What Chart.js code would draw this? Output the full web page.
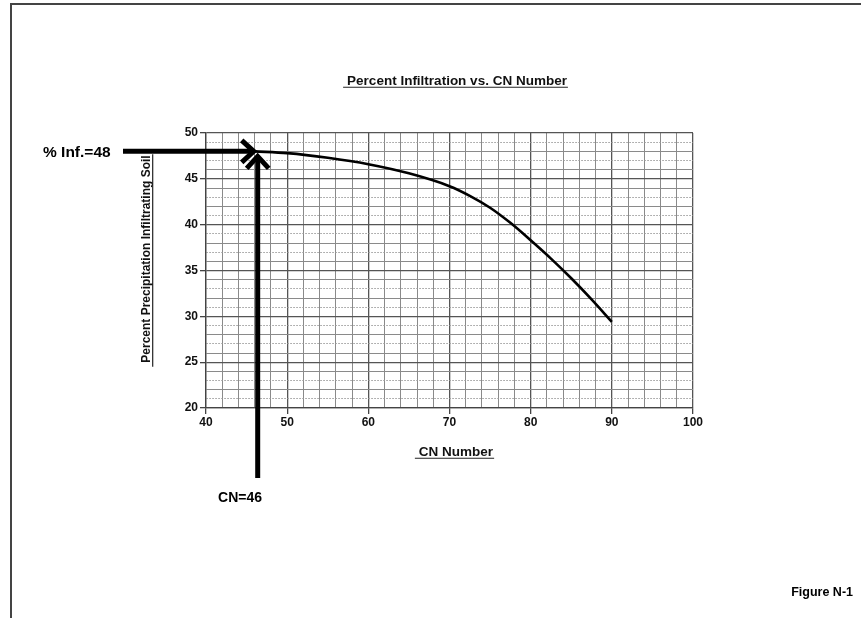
<!DOCTYPE html>
<html>
<head>
<meta charset="utf-8">
<script src="https://cdn.jsdelivr.net/npm/chart.js@4"></script>
<style>
html,body{margin:0;padding:0;background:#fff;}
#wrap{width:861px;height:618px;position:relative;}
</style>
</head>
<body>
<div id="wrap"><canvas id="c" width="861" height="618"></canvas></div>
<script>
const cnValues = [46, 50, 55, 60, 65, 70, 72.5, 75, 77.5, 80, 82.5, 85, 87.5, 90];
const infiltration = [48.0, 47.8, 47.3, 46.6, 45.6, 44.2, 43.15, 41.85, 40.2, 38.3, 36.3, 34.15, 31.85, 29.4];
const xTickLabels = [40, 50, 60, 70, 80, 90, 100];
const yTickLabels = [20, 25, 30, 35, 40, 45, 50];
const chartTitle = 'Percent Infiltration vs. CN Number';
const xTitle = 'CN Number';
const yTitle = 'Percent Precipitation Infiltrating Soil';
const markedCN = 46;
const markedInf = 48;
const figureLabel = 'Figure N-1';

const FONT = '"Liberation Sans", Arial, sans-serif';

function underlinedText(ctx, text, x, y, size, rotate) {
  ctx.save();
  ctx.translate(x, y);
  if (rotate) ctx.rotate(-Math.PI / 2);
  ctx.font = 'bold ' + size + 'px ' + FONT;
  ctx.fillStyle = '#111';
  ctx.textAlign = 'center';
  ctx.textBaseline = 'alphabetic';
  ctx.fillText(text, 0, size * 0.35);
  const w = ctx.measureText(text).width;
  ctx.strokeStyle = '#222';
  ctx.lineWidth = 1.2;
  ctx.beginPath();
  ctx.moveTo(-w / 2 - 4, size * 0.35 + 2.5);
  ctx.lineTo(w / 2 + 1, size * 0.35 + 2.5);
  ctx.stroke();
  ctx.restore();
}

function arrowHead(ctx, tx, ty, dir) {
  ctx.beginPath();
  if (dir === 'right') {
    ctx.moveTo(tx - 13, ty - 11);
    ctx.lineTo(tx - 1, ty);
    ctx.lineTo(tx - 13, ty + 11);
  } else {
    ctx.moveTo(tx - 11, ty + 13);
    ctx.lineTo(tx, ty + 1);
    ctx.lineTo(tx + 11, ty + 13);
  }
  ctx.stroke();
}

const decor = {
  id: 'decor',
  beforeDraw(chart) {
    const ctx = chart.ctx;
    ctx.save();
    ctx.fillStyle = '#fff';
    ctx.fillRect(0, 0, chart.width, chart.height);
    ctx.strokeStyle = '#444';
    ctx.lineWidth = 2;
    ctx.beginPath();
    ctx.moveTo(11, chart.height);
    ctx.lineTo(11, 4);
    ctx.lineTo(chart.width, 4);
    ctx.stroke();
    ctx.restore();
  },
  afterDraw(chart) {
    const ctx = chart.ctx;
    const xs = chart.scales.x, ys = chart.scales.y;
    underlinedText(ctx, chartTitle, 457, 80, 13.5, false);
    underlinedText(ctx, xTitle, 456, 451, 13.5, false);
    underlinedText(ctx, yTitle, 146, 259, 12, true);

    const px = xs.getPixelForValue(markedCN);
    const py = ys.getPixelForValue(markedInf);
    ctx.save();
    ctx.strokeStyle = '#000';
    ctx.lineCap = 'butt';
    ctx.lineJoin = 'miter';
    ctx.lineWidth = 5;
    ctx.beginPath();
    ctx.moveTo(123, py);
    ctx.lineTo(px - 4, py);
    ctx.stroke();
    arrowHead(ctx, px, py, 'right');
    ctx.beginPath();
    ctx.moveTo(px + 3, 478);
    ctx.lineTo(px + 3, py + 8);
    ctx.stroke();
    arrowHead(ctx, px + 3, py + 4, 'up');

    ctx.fillStyle = '#000';
    ctx.font = 'bold 15.5px ' + FONT;
    ctx.textBaseline = 'middle';
    ctx.textAlign = 'left';
    ctx.fillText('% Inf.=' + markedInf, 43, py + 1);
    ctx.font = 'bold 14px ' + FONT;
    ctx.textAlign = 'center';
    ctx.fillText('CN=' + markedCN, 240, 498);
    ctx.font = 'bold 12.5px ' + FONT;
    ctx.textAlign = 'right';
    ctx.fillText(figureLabel, 853, 593);
    ctx.restore();
  }
};

new Chart(document.getElementById('c'), {
  type: 'line',
  data: {
    datasets: [{
      data: cnValues.map((v, i) => ({ x: v, y: infiltration[i] })),
      borderColor: '#000',
      borderWidth: 2.6,
      pointRadius: 0,
      cubicInterpolationMode: 'monotone',
      fill: false
    }]
  },
  options: {
    responsive: false,
    animation: false,
    events: [],
    layout: { padding: { top: 133, right: 168, left: 0, bottom: 0 } },
    plugins: { legend: { display: false }, tooltip: { enabled: false }, title: { display: false } },
    scales: {
      x: {
        type: 'linear',
        min: 40, max: 100,
        afterFit(scale) { scale.height = 618 - 408; },
        afterBuildTicks(scale) {
          const t = [];
          for (let v = 40; v <= 100; v += 2) t.push({ value: v });
          scale.ticks = t;
        },
        ticks: {
          autoSkip: false,
          maxRotation: 0,
          padding: 1,
          color: '#111',
          font: { family: FONT, size: 12, weight: 'bold' },
          callback: (v) => xTickLabels.includes(v) ? String(v) : ''
        },
        grid: {
          color: (c) => (c.tick && c.tick.value % 10 === 0) ? '#555' : '#8a8a8a',
          lineWidth: (c) => (c.tick && c.tick.value % 10 === 0) ? 1.3 : 1,
          tickLength: 6,
          tickColor: (c) => (c.tick && xTickLabels.includes(c.tick.value)) ? '#444' : 'rgba(0,0,0,0)'
        },
        border: { color: '#444', width: 1.3 }
      },
      y: {
        type: 'linear',
        min: 20, max: 50,
        afterFit(scale) { scale.width = 206; },
        afterBuildTicks(scale) {
          const t = [];
          for (let v = 20; v <= 50; v += 1) t.push({ value: v });
          scale.ticks = t;
        },
        ticks: {
          autoSkip: false,
          padding: 2,
          color: '#111',
          font: { family: FONT, size: 12, weight: 'bold' },
          callback: (v) => yTickLabels.includes(v) ? String(v) : ''
        },
        grid: {
          color: (c) => {
            if (!c.tick) return '#888';
            const v = c.tick.value;
            if (v % 5 === 0) return '#555';
            return v % 2 === 0 ? '#8a8a8a' : '#9a9a9a';
          },
          lineWidth: (c) => (c.tick && c.tick.value % 5 === 0) ? 1.3 : 1,
          tickLength: 6,
          tickColor: (c) => (c.tick && yTickLabels.includes(c.tick.value)) ? '#444' : 'rgba(0,0,0,0)'
        },
        border: {
          color: '#444', width: 1.3,
          dash: (c) => (c.tick && c.tick.value % 5 !== 0 && c.tick.value % 2 !== 0) ? [1.5, 1.5] : []
        }
      }
    }
  },
  plugins: [decor]
});
</script>
</body>
</html>
